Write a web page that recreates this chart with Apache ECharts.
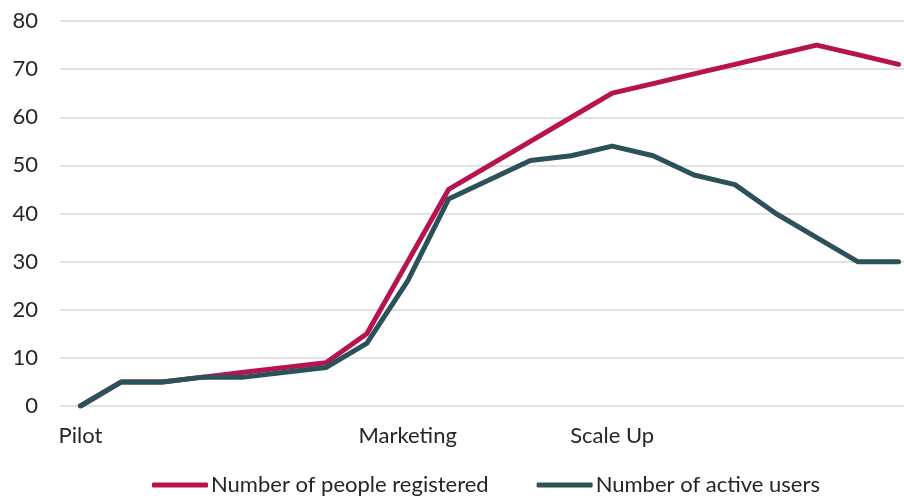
<!DOCTYPE html>
<html>
<head>
<meta charset="utf-8">
<script src="https://cdn.jsdelivr.net/npm/echarts@6/dist/echarts.min.js"></script>
<style>
  html, body { margin: 0; padding: 0; background: #ffffff; overflow: hidden; }
  #chart { width: 920px; height: 501px; }
</style>
</head>
<body>
<div id="chart"></div>
<script>
// Programme phases along the x axis (only phase starts are labelled)
const periods = ['Pilot', '', '', '', '', '', '', '', 'Marketing', '', '', '', '', 'Scale Up', '', '', '', '', '', '', ''];
const registered = [0, 5, 5, 6, 7, 8, 9, 15, 30, 45, 50, 55, 60, 65, 67, 69, 71, 73, 75, 73, 71];
const activeUsers = [0, 5, 5, 6, 6, 7, 8, 13, 26, 43, 47, 51, 52, 54, 52, 48, 46, 40, 35, 30, 30];
const yTicks = { min: 0, max: 80, interval: 10 };

const textColor = '#262626';
const fontFamily = 'Lato, "Noto Sans", sans-serif';

// The plot runs slightly past the right edge of the visible page,
// so the last category's point sits close to the border.
const chart = echarts.init(document.getElementById('chart'), null, { renderer: 'canvas' });
chart.setOption({
  animation: false,
  backgroundColor: '#ffffff',
  grid: { left: 60, right: 1, top: 21, bottom: 95, containLabel: false },
  xAxis: {
    type: 'category',
    data: periods,
    boundaryGap: true,
    axisLine: { show: false },
    axisTick: { show: false },
    axisLabel: { interval: 0, margin: 19, color: textColor, fontSize: 22, fontFamily: fontFamily },
    splitLine: { show: false }
  },
  yAxis: {
    type: 'value',
    min: yTicks.min,
    max: yTicks.max,
    interval: yTicks.interval,
    axisLine: { show: false },
    axisTick: { show: false },
    axisLabel: { margin: 22, color: textColor, fontSize: 22, fontFamily: fontFamily },
    splitLine: { lineStyle: { color: '#d9d9d9', width: 1.5 } }
  },
  legend: {
    left: 147,
    bottom: 0,
    itemWidth: 56,
    itemHeight: 5,
    itemGap: 48,
    icon: 'roundRect',
    textStyle: { color: textColor, fontSize: 22, fontFamily: fontFamily, padding: [0, 0, 0, -2] },
    data: ['Number of people registered', 'Number of active users']
  },
  series: [
    {
      name: 'Number of people registered',
      type: 'line',
      data: registered,
      showSymbol: false,
      symbol: 'none',
      color: '#b8134f',
      lineStyle: { width: 5, color: '#b8134f', cap: 'round', join: 'round' },
      z: 2
    },
    {
      name: 'Number of active users',
      type: 'line',
      data: activeUsers,
      showSymbol: false,
      symbol: 'none',
      color: '#2b5159',
      lineStyle: { width: 5, color: '#2b5159', cap: 'round', join: 'round' },
      z: 3
    }
  ]
});
</script>
</body>
</html>
